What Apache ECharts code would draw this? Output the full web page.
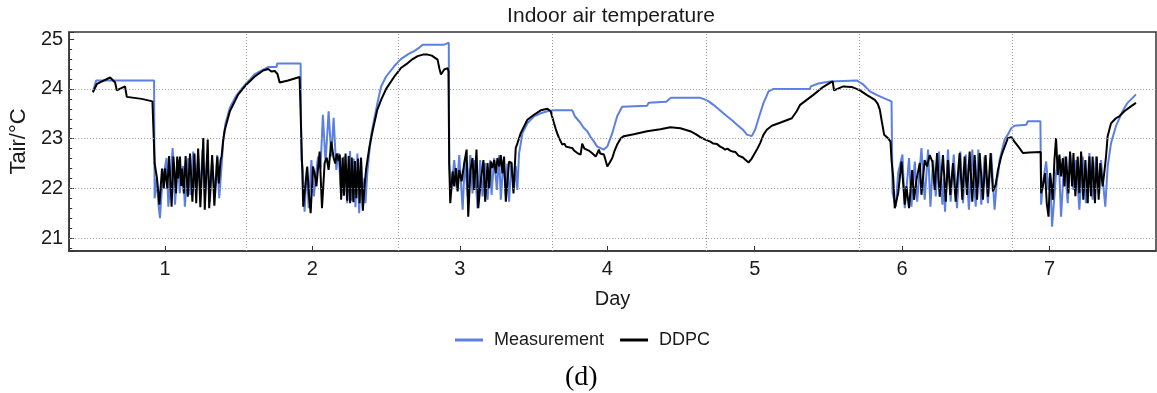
<!DOCTYPE html>
<html>
<head>
<meta charset="utf-8">
<script src="https://cdn.jsdelivr.net/npm/echarts@6/dist/echarts.min.js"></script>
<style>
html,body{margin:0;padding:0;background:#fff;}
#chart{width:1157px;height:393px;}
</style>
</head>
<body>
<div id="chart"></div>
<script>
// ---- data (day, indoor air temperature °C) ----
const seriesNames = ['Measurement', 'DDPC'];

const measurement = [
[0.511,23.95],[0.533,24.17],[0.926,24.17],
[0.930,21.80],[0.944,22.20],[0.955,21.70],[0.966,21.40],[0.978,21.95],[0.989,22.24],[1.011,22.61],[1.023,21.63],[1.040,22.30],[1.052,22.81],[1.068,21.67],[1.080,22.20],[1.090,22.57],[1.100,21.90],[1.110,22.20],[1.122,22.45],[1.135,21.63],[1.158,22.61],[1.172,21.87],[1.192,22.74],[1.210,21.90],[1.225,22.67],[1.240,21.93],[1.255,22.78],[1.271,21.84],[1.287,22.67],[1.305,21.73],[1.320,22.57],[1.338,21.83],[1.354,22.67],[1.368,21.80],
[1.385,22.50],[1.395,22.95],[1.410,23.30],[1.440,23.62],[1.480,23.85],[1.519,24.00],[1.553,24.12],[1.580,24.20],[1.609,24.30],[1.640,24.35],[1.666,24.39],[1.700,24.44],[1.757,24.44],[1.760,24.51],[1.920,24.51],
[1.925,22.60],[1.935,22.37],[1.947,21.53],[1.962,22.40],[1.975,21.60],[1.993,22.57],[2.010,21.84],[2.025,22.30],[2.038,22.64],[2.055,22.40],[2.071,23.48],[2.089,22.51],[2.110,23.55],[2.128,22.64],[2.144,23.42],[2.162,22.37],[2.178,22.71],[2.195,21.84],[2.215,22.64],[2.236,21.70],[2.255,22.75],[2.268,21.75],[2.280,22.60],[2.292,21.62],[2.305,22.70],[2.317,21.50],[2.330,22.55],[2.342,21.60],[2.352,22.20],[2.360,21.70],[2.372,22.30],
[2.385,22.70],[2.400,23.10],[2.420,23.40],[2.440,23.70],[2.466,24.05],[2.500,24.25],[2.556,24.46],[2.600,24.60],[2.650,24.70],[2.690,24.76],[2.720,24.82],[2.748,24.89],[2.894,24.89],[2.900,24.93],[2.925,24.93],
[2.928,22.51],[2.940,21.90],[2.962,22.57],[2.980,21.97],[2.996,22.67],[3.019,21.57],[3.034,22.57],[3.053,21.84],[3.071,22.67],[3.086,21.90],[3.098,22.57],[3.120,21.60],[3.138,22.57],[3.154,21.84],[3.170,22.51],[3.188,21.77],[3.206,22.57],[3.215,21.87],[3.233,22.61],[3.251,21.97],[3.267,22.67],[3.278,21.77],[3.296,22.57],[3.312,21.87],[3.322,22.50],[3.334,21.73],[3.350,22.54],[3.368,22.00],[3.380,22.45],[3.390,21.97],
[3.402,22.71],[3.425,23.11],[3.458,23.31],[3.503,23.45],[3.549,23.51],[3.594,23.55],[3.639,23.57],[3.763,23.57],[3.780,23.45],[3.800,23.38],[3.819,23.31],[3.840,23.22],[3.864,23.15],[3.890,23.02],[3.910,22.94],[3.932,22.84],[3.977,22.78],[4.000,22.84],[4.034,23.11],[4.067,23.45],[4.101,23.64],[4.270,23.66],[4.280,23.72],[4.400,23.74],[4.430,23.82],[4.631,23.82],[4.660,23.79],[4.688,23.75],[4.720,23.68],[4.744,23.62],[4.780,23.53],[4.812,23.45],[4.850,23.36],[4.880,23.28],[4.920,23.18],[4.947,23.08],[4.980,23.05],[5.003,23.18],[5.037,23.51],[5.060,23.72],[5.094,23.95],[5.127,24.00],[5.375,24.00],[5.380,24.05],[5.432,24.11],[5.510,24.15],[5.520,24.17],[5.691,24.17],[5.736,24.09],[5.781,23.95],[5.827,23.88],[5.872,23.82],[5.928,23.75],
[5.935,21.90],[5.957,21.63],[5.973,22.31],[6.002,22.68],[6.018,21.60],[6.047,22.61],[6.063,21.63],[6.086,22.54],[6.102,21.73],[6.131,22.81],[6.153,21.77],[6.176,22.78],[6.192,21.63],[6.210,22.57],[6.228,21.84],[6.250,22.74],[6.273,21.67],[6.282,22.20],[6.291,21.53],[6.311,22.78],[6.329,21.73],[6.350,22.68],[6.372,21.60],[6.395,22.74],[6.413,21.70],[6.431,22.68],[6.453,21.57],[6.476,22.78],[6.499,21.63],[6.517,22.78],[6.537,21.67],[6.559,22.64],[6.582,21.70],[6.604,22.71],[6.627,21.57],[6.643,22.17],[6.652,22.30],
[6.661,22.57],[6.695,22.98],[6.717,23.08],[6.740,23.21],[6.762,23.26],[6.842,23.28],[6.853,23.35],[6.938,23.35],
[6.943,21.67],[6.954,22.10],[6.977,22.54],[6.993,21.97],[7.004,22.27],[7.017,21.23],[7.033,21.84],[7.044,22.31],[7.062,22.64],[7.078,21.43],[7.101,22.64],[7.123,21.70],[7.139,22.71],[7.162,21.97],[7.180,22.57],[7.202,21.57],[7.225,22.64],[7.247,21.70],[7.270,22.71],[7.292,21.77],[7.315,22.64],[7.338,21.90],[7.349,22.57],[7.378,21.63],[7.394,22.44],[7.417,22.91],[7.450,23.25],[7.495,23.55],[7.529,23.72],[7.563,23.82],[7.586,23.89]
];

const ddpc = [
[0.511,23.93],[0.538,24.10],[0.628,24.23],[0.662,24.13],[0.673,23.97],[0.729,24.05],[0.741,23.84],[0.842,23.80],[0.915,23.75],
[0.930,22.50],[0.940,22.48],[0.946,22.20],[0.962,21.67],[0.980,22.40],[0.992,22.00],[1.000,22.40],[1.016,22.00],[1.028,22.65],[1.045,21.63],[1.057,22.64],[1.075,21.90],[1.083,22.64],[1.090,22.20],[1.102,22.64],[1.110,22.05],[1.116,22.40],[1.128,21.90],[1.140,22.65],[1.155,21.83],[1.170,22.70],[1.186,21.73],[1.200,22.70],[1.212,21.70],[1.225,22.80],[1.240,21.62],[1.260,23.01],[1.270,21.57],[1.290,22.98],[1.300,21.60],[1.320,22.67],[1.335,21.65],[1.355,22.64],[1.365,22.10],[1.377,22.57],
[1.384,22.64],[1.395,22.98],[1.406,23.18],[1.440,23.55],[1.497,23.89],[1.553,24.09],[1.609,24.25],[1.666,24.37],[1.700,24.40],[1.722,24.35],[1.745,24.36],[1.763,24.30],[1.778,24.13],[1.835,24.17],[1.913,24.24],[1.922,24.25],
[1.930,22.50],[1.938,21.63],[1.947,21.60],[1.965,22.44],[1.976,21.90],[1.988,21.50],[2.004,22.44],[2.015,22.30],[2.027,22.04],[2.049,22.74],[2.065,21.60],[2.083,22.51],[2.097,22.62],[2.110,22.37],[2.128,22.94],[2.144,22.61],[2.155,22.50],[2.165,22.70],[2.178,22.55],[2.186,22.68],[2.195,21.77],[2.205,22.62],[2.214,21.85],[2.225,22.70],[2.236,21.75],[2.246,22.65],[2.256,21.70],[2.267,22.62],[2.278,21.72],[2.288,22.55],[2.298,21.80],[2.310,22.60],[2.320,21.70],[2.330,22.62],[2.342,21.55],[2.355,22.10],[2.365,22.40],
[2.387,22.84],[2.410,23.18],[2.440,23.58],[2.466,23.78],[2.500,24.00],[2.556,24.25],[2.600,24.42],[2.647,24.52],[2.680,24.60],[2.714,24.66],[2.750,24.69],[2.782,24.69],[2.810,24.67],[2.849,24.59],[2.862,24.40],[2.872,24.29],[2.894,24.39],[2.917,24.42],[2.923,24.35],
[2.928,22.50],[2.935,21.70],[2.951,22.34],[2.962,22.04],[2.973,22.41],[2.985,21.94],[2.996,22.37],[3.012,22.14],[3.030,22.51],[3.046,22.78],[3.057,21.43],[3.072,22.37],[3.086,22.61],[3.097,21.97],[3.113,22.78],[3.125,21.60],[3.143,22.17],[3.160,22.57],[3.172,21.73],[3.188,22.51],[3.199,22.00],[3.210,22.54],[3.221,22.41],[3.233,22.57],[3.244,22.30],[3.255,22.61],[3.267,22.44],[3.278,22.67],[3.289,22.30],[3.300,22.64],[3.312,21.73],[3.334,22.54],[3.350,22.51],[3.364,21.90],[3.379,22.81],[3.391,22.91],[3.402,22.88],[3.413,23.11],
[3.458,23.38],[3.503,23.48],[3.549,23.57],[3.594,23.60],[3.616,23.55],[3.639,23.31],[3.655,23.15],[3.673,23.01],[3.695,22.88],[3.710,22.90],[3.720,22.84],[3.730,22.88],[3.745,22.82],[3.763,22.81],[3.775,22.76],[3.785,22.80],[3.797,22.71],[3.808,22.74],[3.819,22.68],[3.830,22.90],[3.845,22.80],[3.860,22.78],[3.875,22.76],[3.887,22.74],[3.900,22.70],[3.910,22.66],[3.921,22.64],[3.932,22.70],[3.943,22.78],[3.952,22.70],[3.960,22.74],[3.977,22.68],[3.990,22.55],[4.000,22.44],[4.017,22.52],[4.034,22.61],[4.050,22.76],[4.067,22.88],[4.090,23.00],[4.112,23.05],[4.180,23.09],[4.270,23.15],[4.360,23.19],[4.428,23.23],[4.496,23.21],[4.563,23.15],[4.600,23.09],[4.631,23.03],[4.665,22.98],[4.699,22.94],[4.720,22.90],[4.730,22.86],[4.745,22.89],[4.766,22.84],[4.780,22.82],[4.790,22.86],[4.800,22.78],[4.815,22.80],[4.834,22.76],[4.850,22.74],[4.860,22.70],[4.870,22.73],[4.890,22.66],[4.902,22.68],[4.920,22.62],[4.935,22.58],[4.947,22.60],[4.958,22.52],[4.969,22.56],[4.980,22.60],[4.992,22.64],[5.015,22.78],[5.037,22.91],[5.060,23.08],[5.082,23.18],[5.116,23.26],[5.172,23.32],[5.252,23.41],[5.285,23.55],[5.308,23.68],[5.353,23.78],[5.398,23.88],[5.455,24.02],[5.510,24.12],[5.529,24.15],[5.538,23.97],[5.601,24.05],[5.658,24.04],[5.714,23.97],[5.759,23.88],[5.815,23.78],[5.835,23.70],[5.849,23.58],[5.862,23.35],[5.878,23.08],[5.905,23.01],[5.921,22.94],
[5.928,22.57],[5.939,22.24],[5.950,21.60],[5.973,21.90],[5.996,22.54],[6.018,21.67],[6.029,22.04],[6.047,21.60],[6.068,22.37],[6.081,21.77],[6.097,22.17],[6.120,22.51],[6.131,21.87],[6.153,22.57],[6.169,22.44],[6.187,22.67],[6.205,22.54],[6.221,21.97],[6.237,22.71],[6.255,21.83],[6.277,22.67],[6.296,21.73],[6.311,22.57],[6.327,21.87],[6.345,22.51],[6.363,21.73],[6.390,22.71],[6.408,21.77],[6.424,22.64],[6.440,21.87],[6.458,22.74],[6.476,21.73],[6.492,22.67],[6.508,21.77],[6.526,22.71],[6.548,21.77],[6.566,22.67],[6.582,21.83],[6.600,22.71],[6.616,21.94],[6.634,22.07],[6.650,22.37],[6.672,22.64],
[6.683,22.74],[6.717,23.01],[6.740,23.03],[6.762,22.94],[6.796,22.81],[6.819,22.71],[6.864,22.72],[6.940,22.73],
[6.943,21.90],[6.954,22.04],[6.970,22.31],[6.981,21.70],[6.993,21.43],[7.004,22.31],[7.022,21.77],[7.033,22.57],[7.044,23.01],[7.056,22.27],[7.067,22.68],[7.078,22.24],[7.090,22.61],[7.101,22.04],[7.112,22.64],[7.128,21.90],[7.139,22.74],[7.153,22.04],[7.162,22.71],[7.175,21.84],[7.191,22.64],[7.202,21.90],[7.214,22.74],[7.229,21.77],[7.243,22.57],[7.259,21.70],[7.270,22.64],[7.281,21.84],[7.292,22.64],[7.308,21.70],[7.320,22.64],[7.333,21.77],[7.344,22.51],[7.360,22.04],[7.371,22.31],[7.383,22.64],[7.394,23.05],[7.417,23.31],[7.450,23.41],[7.473,23.45],[7.507,23.55],[7.552,23.65],[7.586,23.72]
];

// axis ranges and grid lines (values in data units)
const dayRange = [0.35, 7.722];
const tempRange = [20.74, 25.145];
const gridDays = [1.548, 2.579, 3.628, 4.670, 5.707, 6.749];
const gridTemps = [21, 22, 23, 24];

const FONT = '"Liberation Sans", Arial, sans-serif';
const gridLineStyle = { color: '#9a9a9a', width: 1, type: [1, 2] };

const chart = echarts.init(document.getElementById('chart'), null, { renderer: 'canvas' });

chart.setOption({
  animation: false,
  backgroundColor: '#fff',
  title: {
    text: 'Indoor air temperature',
    left: 611, top: 6, textAlign: 'center', padding: 0,
    textStyle: { fontFamily: FONT, fontSize: 21, fontWeight: 'normal', color: '#1a1a1a' }
  },
  legend: {
    data: seriesNames,
    left: 455, top: 331, padding: 0,
    icon: 'rect', itemWidth: 28, itemHeight: 3, itemGap: 16,
    textStyle: { fontFamily: FONT, fontSize: 18, color: '#1a1a1a', padding: [0, 0, 0, 6] }
  },
  grid: {
    left: 67, right: 1, top: 32, bottom: 142,
    show: true, borderColor: '#333', borderWidth: 1.5, backgroundColor: 'transparent'
  },
  xAxis: {
    type: 'value',
    min: dayRange[0], max: dayRange[1],
    minInterval: 1, maxInterval: 1,
    name: 'Day', nameLocation: 'middle', nameGap: 38,
    nameTextStyle: { fontFamily: FONT, fontSize: 20, color: '#1a1a1a' },
    axisLine: { show: true, lineStyle: { color: '#333', width: 1.5 } },
    axisTick: { show: true, inside: true, length: 5, lineStyle: { color: '#333' } },
    axisLabel: {
      fontFamily: FONT, fontSize: 20, color: '#1a1a1a', margin: 8,
      showMinLabel: false, showMaxLabel: false,
      formatter: v => (Math.abs(v - Math.round(v)) < 1e-6 ? String(Math.round(v)) : '')
    },
    splitLine: { show: false }
  },
  yAxis: {
    type: 'value',
    min: tempRange[0], max: tempRange[1],
    minInterval: 1, maxInterval: 1,
    name: 'Tair/°C', nameLocation: 'middle', nameGap: 36,
    nameTextStyle: { fontFamily: FONT, fontSize: 22, color: '#1a1a1a' },
    axisLine: { show: true, lineStyle: { color: '#333', width: 1.5 } },
    axisTick: { show: true, inside: true, length: 5, lineStyle: { color: '#333' } },
    minorTick: { show: true, splitNumber: 5, length: 3, lineStyle: { color: '#333' } },
    axisLabel: {
      fontFamily: FONT, fontSize: 20, color: '#1a1a1a', margin: 6,
      showMinLabel: false, showMaxLabel: false,
      formatter: v => (Math.abs(v - Math.round(v)) < 1e-6 ? String(Math.round(v)) : '')
    },
    splitLine: { show: false }
  },
  series: [
    {
      name: 'grid', type: 'line', data: [], z: 1, silent: true,
      markLine: {
        silent: true, symbol: ['none', 'none'], animation: false,
        label: { show: false },
        lineStyle: gridLineStyle,
        emphasis: { disabled: true },
        data: gridDays.map(d => ({ xAxis: d })).concat(gridTemps.map(t => ({ yAxis: t })))
      }
    },
    {
      name: seriesNames[0], type: 'line', data: measurement, z: 2,
      showSymbol: false, symbol: 'none',
      lineStyle: { color: '#5B7FE3', width: 2 }, itemStyle: { color: '#5B7FE3' }
    },
    {
      name: seriesNames[1], type: 'line', data: ddpc, z: 3,
      showSymbol: false, symbol: 'none',
      lineStyle: { color: '#000', width: 2 }, itemStyle: { color: '#000' }
    }
  ],
  graphic: [
    {
      type: 'text', left: 565, top: 364,
      style: { text: '(d)', font: '28px "Liberation Serif", "Times New Roman", serif', fill: '#000' }
    }
  ]
});
</script>
</body>
</html>
